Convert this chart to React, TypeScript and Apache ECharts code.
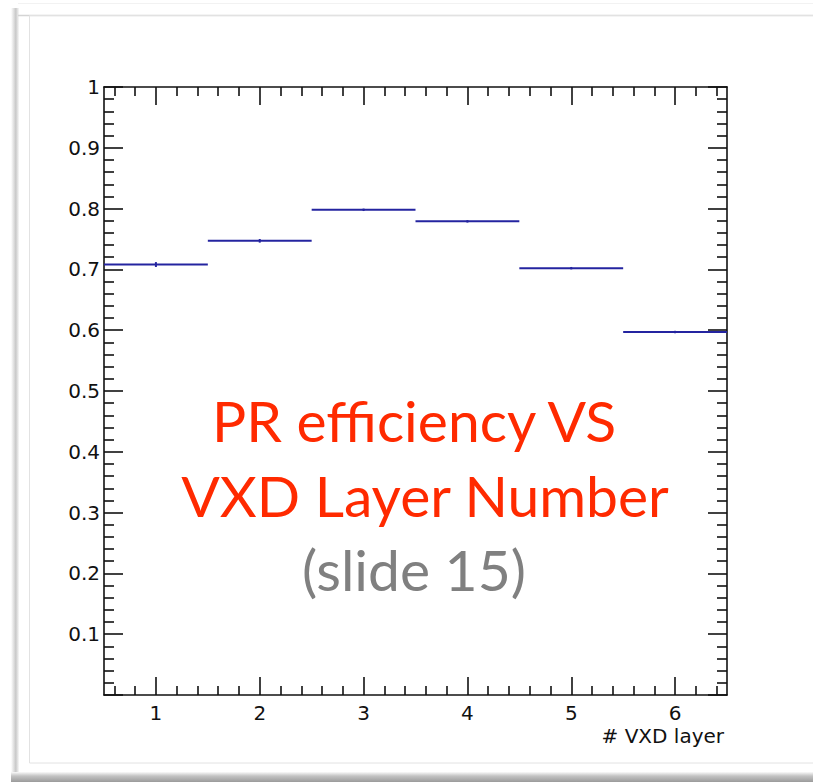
import React, { useEffect, useRef } from "react";
import * as echarts from "echarts";

// Pattern-recognition efficiency per VXD layer (histogram bins of width 1)
const layers = [1, 2, 3, 4, 5, 6];
const efficiency = [0.708, 0.747, 0.798, 0.779, 0.702, 0.597];
const errors = [0.004, 0.003, 0.002, 0.002, 0.002, 0.002];

const xMajorTicks = [1, 2, 3, 4, 5, 6];
const xMinorTicks = [0.6, 0.8, 1.2, 1.4, 1.6, 1.8, 2.2, 2.4, 2.6, 2.8, 3.2, 3.4, 3.6, 3.8, 4.2, 4.4, 4.6, 4.8, 5.2, 5.4, 5.6, 5.8, 6.2, 6.4];

const titleLines = ["PR efficiency VS", "VXD Layer Number"];
const subtitle = "(slide 15)";
const xTitle = "# VXD layer";

const HIST_BLUE = "#2424a0";
const AXIS_BLACK = "#111111";
const AXIS_FONT = "DejaVu Sans, Liberation Sans, sans-serif";

export default function App() {
  const ref = useRef<HTMLDivElement>(null);

  useEffect(() => {
    document.body.style.margin = "0";
    const chart = echarts.init(ref.current!, null, { renderer: "svg" });

    const xBase = (pos: "top" | "bottom") => ({
      type: "value" as const,
      position: pos,
      min: 0.5,
      max: 6.5,
      splitLine: { show: false },
      axisLine: { show: true, lineStyle: { color: AXIS_BLACK, width: 1.6 } },
    });

    const majorX = (pos: "top" | "bottom", labels: boolean) => ({
      ...xBase(pos),
      axisTick: {
        show: true,
        inside: true,
        length: 18,
        customValues: xMajorTicks,
        lineStyle: { color: AXIS_BLACK, width: 1.6 },
      },
      axisLabel: {
        show: labels,
        customValues: xMajorTicks,
        margin: 8,
        fontFamily: AXIS_FONT,
        fontSize: 20,
        color: AXIS_BLACK,
      },
    });

    const minorX = (pos: "top" | "bottom") => ({
      ...xBase(pos),
      axisLine: { show: false },
      axisTick: {
        show: true,
        inside: true,
        length: 9,
        customValues: xMinorTicks,
        lineStyle: { color: AXIS_BLACK, width: 1.6 },
      },
      axisLabel: { show: false },
    });

    const yAxisDef = (pos: "left" | "right", labels: boolean) => ({
      type: "value" as const,
      position: pos,
      min: 0,
      max: 1,
      interval: 0.1,
      splitLine: { show: false },
      axisLine: { show: true, lineStyle: { color: AXIS_BLACK, width: 1.6 } },
      axisTick: {
        show: true,
        inside: true,
        length: 19,
        lineStyle: { color: AXIS_BLACK, width: 1.6 },
      },
      minorTick: {
        show: true,
        splitNumber: 5,
        length: 10,
        lineStyle: { color: AXIS_BLACK, width: 1.6 },
      },
      axisLabel: {
        show: labels,
        showMinLabel: false,
        showMaxLabel: true,
        margin: 4,
        fontFamily: AXIS_FONT,
        fontSize: 20,
        color: AXIS_BLACK,
        formatter: (v: number) => (v === 1 ? "1" : v.toFixed(1)),
      },
    });

    const bottomAxis: any = majorX("bottom", true);
    bottomAxis.name = xTitle;
    bottomAxis.nameLocation = "end";
    bottomAxis.nameGap = -3;
    bottomAxis.nameTextStyle = {
      align: "right",
      verticalAlign: "top",
      padding: [31, 0, 0, 0],
      fontFamily: AXIS_FONT,
      fontSize: 20,
      color: AXIS_BLACK,
    };

    const caption = (text: string, x: number, y: number, color: string) => ({
      type: "text",
      x,
      y,
      style: {
        text,
        fill: color,
        font: "57px Lato, sans-serif",
        align: "center",
        verticalAlign: "top",
      },
      silent: true,
    });

    chart.setOption({
      animation: false,
      backgroundColor: "#ffffff",
      grid: { left: 104, right: 86, top: 87, bottom: 87, containLabel: false },
      xAxis: [bottomAxis, minorX("bottom"), majorX("top", false), minorX("top")],
      yAxis: [yAxisDef("left", true), yAxisDef("right", false)],
      series: [
        {
          type: "custom",
          xAxisIndex: 0,
          yAxisIndex: 0,
          data: layers.map((l, i) => [l, efficiency[i], errors[i]]),
          renderItem: (_params: any, api: any) => {
            const x = api.value(0);
            const y = api.value(1);
            const e = api.value(2);
            const a = api.coord([x - 0.5, y]);
            const b = api.coord([x + 0.5, y]);
            const top = api.coord([x, y + e]);
            const bot = api.coord([x, y - e]);
            return {
              type: "group",
              children: [
                {
                  type: "line",
                  shape: { x1: a[0], y1: a[1], x2: b[0], y2: b[1] },
                  style: { stroke: HIST_BLUE, lineWidth: 2 },
                },
                {
                  type: "line",
                  shape: { x1: top[0], y1: top[1], x2: bot[0], y2: bot[1] },
                  style: { stroke: HIST_BLUE, lineWidth: 2 },
                },
              ],
            };
          },
        },
      ],
      graphic: [
        // slide frame: soft left shadow, bottom shadow band, thin inner border
        {
          type: "rect",
          shape: { x: 11, y: 8, width: 8, height: 774 },
          style: {
            fill: new echarts.graphic.LinearGradient(0, 0, 1, 0, [
              { offset: 0, color: "rgba(255,255,255,1)" },
              { offset: 0.6, color: "rgba(200,200,200,1)" },
              { offset: 1, color: "rgba(248,248,248,1)" },
            ]),
          },
          silent: true,
        },
        {
          type: "rect",
          shape: { x: 11, y: 772, width: 802, height: 10 },
          style: {
            fill: new echarts.graphic.LinearGradient(0, 0, 0, 1, [
              { offset: 0, color: "rgba(250,250,250,1)" },
              { offset: 0.4, color: "rgba(195,195,195,1)" },
              { offset: 1, color: "rgba(155,155,155,1)" },
            ]),
          },
          silent: true,
        },
        {
          type: "line",
          shape: { x1: 18, y1: 3.5, x2: 813, y2: 3.5 },
          style: { stroke: "#f2f2f2", lineWidth: 1 },
          silent: true,
        },
        {
          type: "line",
          shape: { x1: 18, y1: 15.5, x2: 813, y2: 15.5 },
          style: { stroke: "#d4d4d4", lineWidth: 1.5 },
          silent: true,
        },
        {
          type: "rect",
          shape: { x: 29.5, y: 15.5, width: 800, height: 747.5 },
          style: { fill: "none", stroke: "#e2e2e2", lineWidth: 1 },
          silent: true,
        },
        // overlay caption
        caption(titleLines[0], 414, 391, "#ff2a00"),
        caption(titleLines[1], 425, 466, "#ff2a00"),
        caption(subtitle, 414, 540, "#808080"),
      ],
    });

    return () => chart.dispose();
  }, []);

  return <div ref={ref} style={{ width: 813, height: 782 }} />;
}
